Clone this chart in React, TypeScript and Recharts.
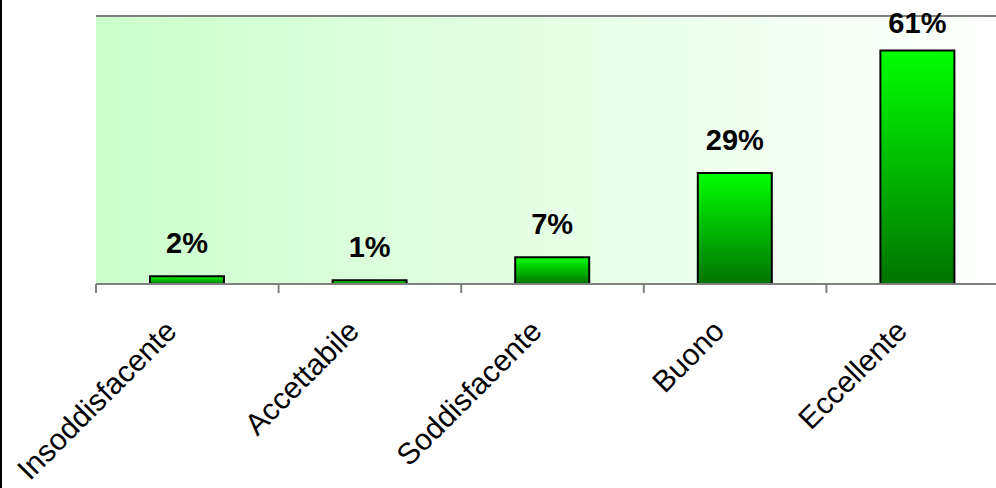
import { Bar, BarChart, CartesianGrid, LabelList, ReferenceLine, XAxis, YAxis } from "recharts";

const categories = ["Insoddisfacente", "Accettabile", "Soddisfacente", "Buono", "Eccellente"];
const shares = [2, 1, 7, 29, 61];
const yDomain: [number, number] = [0, 70];

const data = categories.map((name, i) => ({ name, value: shares[i] }));

const FONT = '"Liberation Sans", Arial, sans-serif';

// Category label plus an Excel-style tick mark at the left edge of its band
function CategoryTick(props: any) {
  const { x, y, payload } = props;
  const half = payload.offset ?? 0;
  const px = x - 9;
  const py = y + 49;
  return (
    <g>
      <line x1={x - half} y1={y} x2={x - half} y2={y + 9} stroke="#808080" strokeWidth={2} />
      <text
        x={px}
        y={py}
        transform={`rotate(-45, ${px}, ${py})`}
        textAnchor="end"
        fontFamily={FONT}
        fontSize={30}
        fill="#000"
      >
        {payload.value}
      </text>
    </g>
  );
}

function ValueLabel(props: any) {
  const { x, y, width, value } = props;
  return (
    <text
      x={x + width / 2}
      y={Math.max(y - 23, 33)}
      textAnchor="middle"
      fontFamily={FONT}
      fontWeight="bold"
      fontSize={29}
      fill="#000"
    >
      {value}%
    </text>
  );
}

export default function App() {
  return (
    <div style={{ width: 996, height: 488, overflow: "hidden", borderLeft: "2px solid #000", boxSizing: "border-box", background: "#fff" }}>
      <style>{`body{margin:0}`}</style>
      <BarChart
        width={1009}
        height={488}
        data={data}
        margin={{ top: 16, right: 2, bottom: 0, left: 94 }}
        barSize={74}
      >
        <defs>
          <linearGradient id="plotBg" x1="0" y1="0" x2="1" y2="0">
            <stop offset="0%" stopColor="#ccffcc" />
            <stop offset="100%" stopColor="#ffffff" />
          </linearGradient>
          <linearGradient id="barFill" x1="0" y1="0" x2="0" y2="1">
            <stop offset="0%" stopColor="#00ff00" />
            <stop offset="100%" stopColor="#007300" />
          </linearGradient>
        </defs>
        <CartesianGrid fill="url(#plotBg)" horizontal={false} vertical={false} />
        <XAxis
          dataKey="name"
          height={204}
          interval={0}
          tickLine={false}
          tickSize={0}
          tickMargin={0}
          axisLine={{ stroke: "#808080", strokeWidth: 2 }}
          tick={<CategoryTick />}
        />
        <YAxis
          domain={yDomain}
          width={0}
          tick={false}
          tickLine={false}
          axisLine={{ stroke: "#808080", strokeWidth: 2 }}
        />
        <ReferenceLine y={70} stroke="#808080" strokeWidth={2} />
        <Bar dataKey="value" fill="url(#barFill)" stroke="#000" strokeWidth={2} isAnimationActive={false}>
          <LabelList dataKey="value" content={<ValueLabel />} />
        </Bar>
      </BarChart>
    </div>
  );
}
